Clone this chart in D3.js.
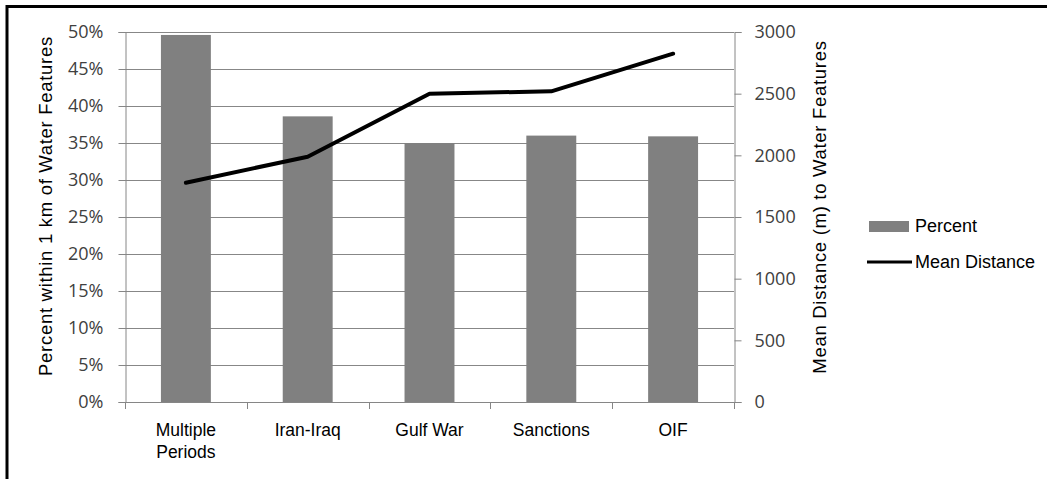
<!DOCTYPE html>
<html>
<head>
<meta charset="utf-8">
<script src="https://d3js.org/d3.v7.min.js"></script>
<style>
  body { margin: 0; background: #fff; }
</style>
</head>
<body>
<div id="chart"></div>
<script>
// data
let categories = ["Multiple Periods", "Iran-Iraq", "Gulf War", "Sanctions", "OIF"];
let percentValues = [49.6, 38.6, 35.0, 36.0, 35.9];
let meanDistance = [1778, 1989, 2500, 2519, 2824];
let percentTicks = [0, 5, 10, 15, 20, 25, 30, 35, 40, 45, 50];
let distanceTicks = [0, 500, 1000, 1500, 2000, 2500, 3000];
let leftTitle = "Percent within 1 km of Water Features";
let rightTitle = "Mean Distance (m) to Water Features";
let legendLabels = ["Percent", "Mean Distance"];

let width = 1047, height = 479;
let plot = {left: 125, right: 734, top: 32, bottom: 402};

let tickFont = "'Open Sans', sans-serif";
let textFont = "'Liberation Sans', Arial, sans-serif";

let svg = d3.select("#chart")
  .append("svg")
  .attr("width", width)
  .attr("height", height);

// outer frame (only top and left visible)
svg.append("rect")
  .attr("x", 7).attr("y", 6.5)
  .attr("width", 1100).attr("height", 600)
  .attr("fill", "none")
  .attr("stroke", "#000")
  .attr("stroke-width", 3);

// scales
let x = d3.scaleBand()
  .domain(categories)
  .range([plot.left, plot.right])
  .padding(0);

let yLeft = d3.scaleLinear()
  .domain([0, 50])
  .range([plot.bottom, plot.top]);

let yRight = d3.scaleLinear()
  .domain([0, 3000])
  .range([plot.bottom, plot.top]);

// gridlines
svg.append("g")
  .selectAll("line")
  .data(percentTicks.slice(1))
  .enter()
  .append("line")
    .attr("x1", plot.left)
    .attr("x2", plot.right)
    .attr("y1", d => Math.round(yLeft(d)) + 0.5)
    .attr("y2", d => Math.round(yLeft(d)) + 0.5)
    .attr("stroke", "#878787")
    .attr("stroke-width", 1.2);

// bars
let barWidth = x.bandwidth() * 0.41;
svg.append("g")
  .selectAll("rect")
  .data(percentValues)
  .enter()
  .append("rect")
    .attr("x", (d, i) => x(categories[i]) + x.bandwidth() / 2 - barWidth / 2)
    .attr("y", d => yLeft(d))
    .attr("width", barWidth)
    .attr("height", d => yLeft(0) - yLeft(d))
    .attr("fill", "#808080");

// left axis
let leftAxis = svg.append("g")
  .attr("transform", "translate(" + (plot.left + 0.5) + ",0)")
  .call(d3.axisLeft(yLeft)
    .tickValues(percentTicks)
    .tickSize(7)
    .tickPadding(15)
    .tickFormat(d => d + "%"));
leftAxis.select(".domain").attr("stroke", "#868686");
leftAxis.selectAll(".tick line").attr("stroke", "#868686");
leftAxis.selectAll("text")
  .attr("font-family", tickFont)
  .attr("font-size", 18)
  .attr("fill", "#404040");

// right axis
let rightAxis = svg.append("g")
  .attr("transform", "translate(" + (plot.right + 0.5) + ",0)")
  .call(d3.axisRight(yRight)
    .tickValues(distanceTicks)
    .tickSize(7)
    .tickPadding(13)
    .tickFormat(d3.format("d")));
rightAxis.select(".domain").attr("stroke", "#868686");
rightAxis.selectAll(".tick line").attr("stroke", "#868686");
rightAxis.selectAll("text")
  .attr("font-family", tickFont)
  .attr("font-size", 18)
  .attr("fill", "#404040");

// bottom axis: ticks at category boundaries
let boundaries = categories.map(c => x(c)).concat([plot.right]);
svg.append("line")
  .attr("x1", plot.left).attr("x2", plot.right + 7)
  .attr("y1", plot.bottom + 0.5).attr("y2", plot.bottom + 0.5)
  .attr("stroke", "#868686");
svg.append("g")
  .selectAll("line")
  .data(boundaries)
  .enter()
  .append("line")
    .attr("x1", d => Math.round(d) + 0.5)
    .attr("x2", d => Math.round(d) + 0.5)
    .attr("y1", plot.bottom)
    .attr("y2", plot.bottom + 7)
    .attr("stroke", "#868686");

// category labels (wrap on space for the first one)
let catLabels = svg.append("g")
  .selectAll("text")
  .data(categories)
  .enter()
  .append("text")
    .attr("x", d => x(d) + x.bandwidth() / 2)
    .attr("y", 436)
    .attr("text-anchor", "middle")
    .attr("font-family", textFont)
    .attr("font-size", 17.5)
    .attr("fill", "#000");
catLabels.each(function(d) {
  let words = d === "Multiple Periods" ? ["Multiple", "Periods"] : [d];
  let t = d3.select(this);
  words.forEach((w, i) => {
    t.append("tspan")
      .attr("x", x(d) + x.bandwidth() / 2)
      .attr("dy", i === 0 ? 0 : 22)
      .text(w);
  });
});

// mean distance line
let line = d3.line()
  .x((d, i) => x(categories[i]) + x.bandwidth() / 2)
  .y(d => yRight(d));
svg.append("path")
  .datum(meanDistance)
  .attr("d", line)
  .attr("fill", "none")
  .attr("stroke", "#000")
  .attr("stroke-width", 4)
  .attr("stroke-linejoin", "round")
  .attr("stroke-linecap", "round");

// axis titles
svg.append("text")
  .attr("transform", "translate(52,206) rotate(-90)")
  .attr("text-anchor", "middle")
  .attr("font-family", textFont)
  .attr("font-size", 18.5)
  .attr("letter-spacing", 0.7)
  .attr("fill", "#000")
  .text(leftTitle);

svg.append("text")
  .attr("transform", "translate(826,207) rotate(-90)")
  .attr("text-anchor", "middle")
  .attr("font-family", textFont)
  .attr("font-size", 18.5)
  .attr("letter-spacing", 0.7)
  .attr("fill", "#000")
  .text(rightTitle);

// legend
let legend = svg.append("g");
legend.append("rect")
  .attr("x", 869).attr("y", 221)
  .attr("width", 40).attr("height", 11)
  .attr("fill", "#808080");
legend.append("line")
  .attr("x1", 867).attr("x2", 912)
  .attr("y1", 262).attr("y2", 262)
  .attr("stroke", "#000")
  .attr("stroke-width", 3);
legend.selectAll("text")
  .data(legendLabels)
  .enter()
  .append("text")
    .attr("x", 915)
    .attr("y", (d, i) => i === 0 ? 232 : 268)
    .attr("font-family", textFont)
    .attr("font-size", 18)
    .attr("fill", "#000")
    .text(d => d);
</script>
</body>
</html>
